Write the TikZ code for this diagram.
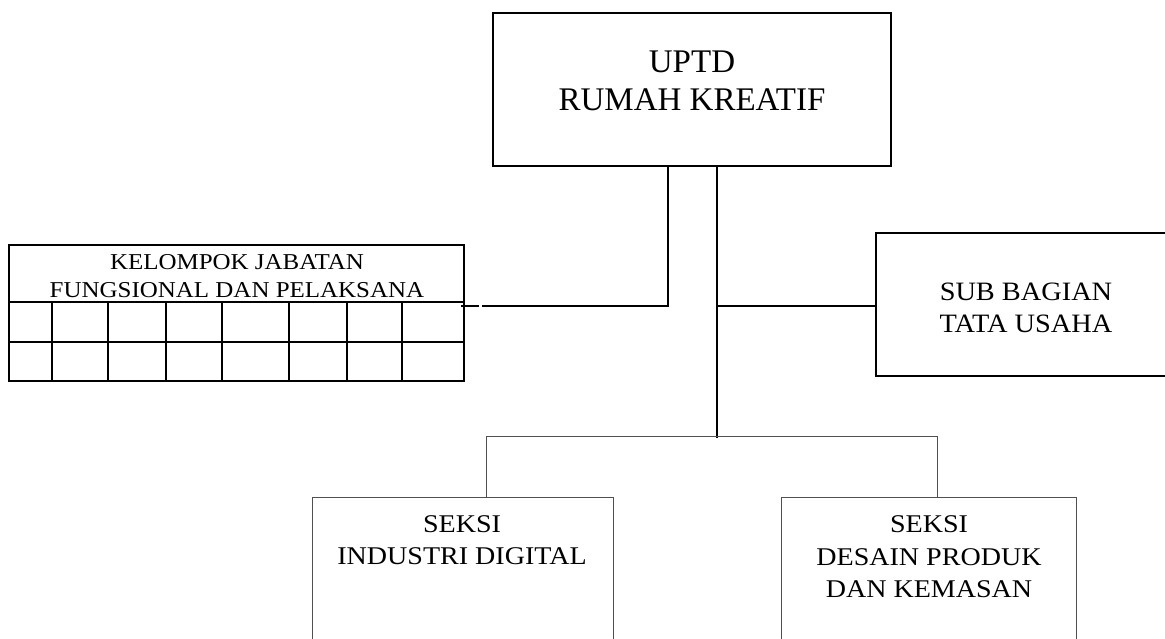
\documentclass[tikz,border=0pt]{standalone}
\usepackage{fontspec}
\setmainfont{Liberation Serif}
\newfontfamily\fTop{Liberation Serif}
\newfontfamily\fSide[FakeStretch=1.07]{Liberation Serif}
\newfontfamily\fBot[FakeStretch=1.1]{Liberation Serif}
\newfontfamily\fGrid[FakeStretch=1.1]{Liberation Serif}
\definecolor{thin}{HTML}{505050}
\begin{document}
\begin{tikzpicture}[x=1pt,y=-1pt,
  heavybox/.style={draw=black,line width=2pt,inner sep=0pt,outer sep=0pt,anchor=north west},
  midbox/.style={draw=black,line width=1.7pt,inner sep=0pt,outer sep=0pt,anchor=north west},
  lightbox/.style={draw=thin,line width=1pt,inner sep=0pt,outer sep=0pt,anchor=north west},
  midline/.style={draw=black,line width=1.7pt},
  lightline/.style={draw=thin,line width=1pt},
  gridline/.style={draw=black,line width=2pt},
  txt/.style={anchor=base,inner sep=0pt,text=black}]
\path[use as bounding box] (0,0) rectangle (1165,638);
\clip (0,0) rectangle (1165,638);

% boxes
\node[heavybox,minimum width=398pt,minimum height=153pt] (top) at (493,13) {};
\node[heavybox,minimum width=455pt,minimum height=136pt] (kjf) at (9,245) {};
\node[midbox,minimum width=310pt,minimum height=143pt] (sub) at (876,233) {};
\node[lightbox,minimum width=301pt,minimum height=160pt] (sid) at (312,497) {};
\node[lightbox,minimum width=295pt,minimum height=160pt] (sdp) at (781,497) {};

% grid inside KELOMPOK box
\draw[gridline] (9,302) -- (464,302);
\draw[gridline] (9,342) -- (464,342);
\foreach \gx in {52,108,166,222,289,347,402}
  \draw[gridline] (\gx,302) -- (\gx,381);

% texts
\node[txt] (tA) at (692,72) {\fTop\fontsize{33}{38}\selectfont UPTD};
\node[txt] (tB) at (692,110) {\fTop\fontsize{33}{38}\selectfont RUMAH KREATIF};
\node[txt] (kA) at (237,269) {\fGrid\fontsize{22.7}{28}\selectfont KELOMPOK JABATAN};
\node[txt] (kB) at (237,297) {\fGrid\fontsize{22.7}{28}\selectfont FUNGSIONAL DAN PELAKSANA};
\node[txt] (sA) at (1026,300) {\fSide\fontsize{26.5}{32}\selectfont SUB BAGIAN};
\node[txt] (sB) at (1026,332) {\fSide\fontsize{26.5}{32}\selectfont TATA USAHA};
\node[txt] (iA) at (462,532) {\fBot\fontsize{25.5}{32}\selectfont SEKSI};
\node[txt] (iB) at (462,564) {\fBot\fontsize{25.5}{32}\selectfont INDUSTRI DIGITAL};
\node[txt] (dA) at (929,532) {\fBot\fontsize{25.5}{32}\selectfont SEKSI};
\node[txt] (dB) at (929,565) {\fBot\fontsize{25.5}{32}\selectfont DESAIN PRODUK};
\node[txt] (dC) at (929,597) {\fBot\fontsize{25.5}{32}\selectfont DAN KEMASAN};

% junction coordinates
\coordinate (jL) at (668,306);
\coordinate (gapA) at (479,306);
\coordinate (gapB) at (482,306);
\coordinate (jK) at (461,306);
\coordinate (jTop) at (668,166);
\coordinate (jTop2) at (717,166);
\coordinate (jR) at (717,306);
\coordinate (jM) at (717,438);
\coordinate (bL) at (486,436);
\coordinate (bR) at (937,436);

% connectors
\draw[midline] (top.south -| jTop) -- (jL) -- (gapB);
\draw[midline] (gapA) -- (jK);
\draw[midline] (top.south -| jTop2) -- (jM);
\draw[midline] (jR) -- (sub.west |- jR);
\draw[lightline] (bL) -- (bR);
\draw[lightline] (bL) -- (sid.north -| bL);
\draw[lightline] (bR) -- (sdp.north -| bR);
\end{tikzpicture}
\end{document}
